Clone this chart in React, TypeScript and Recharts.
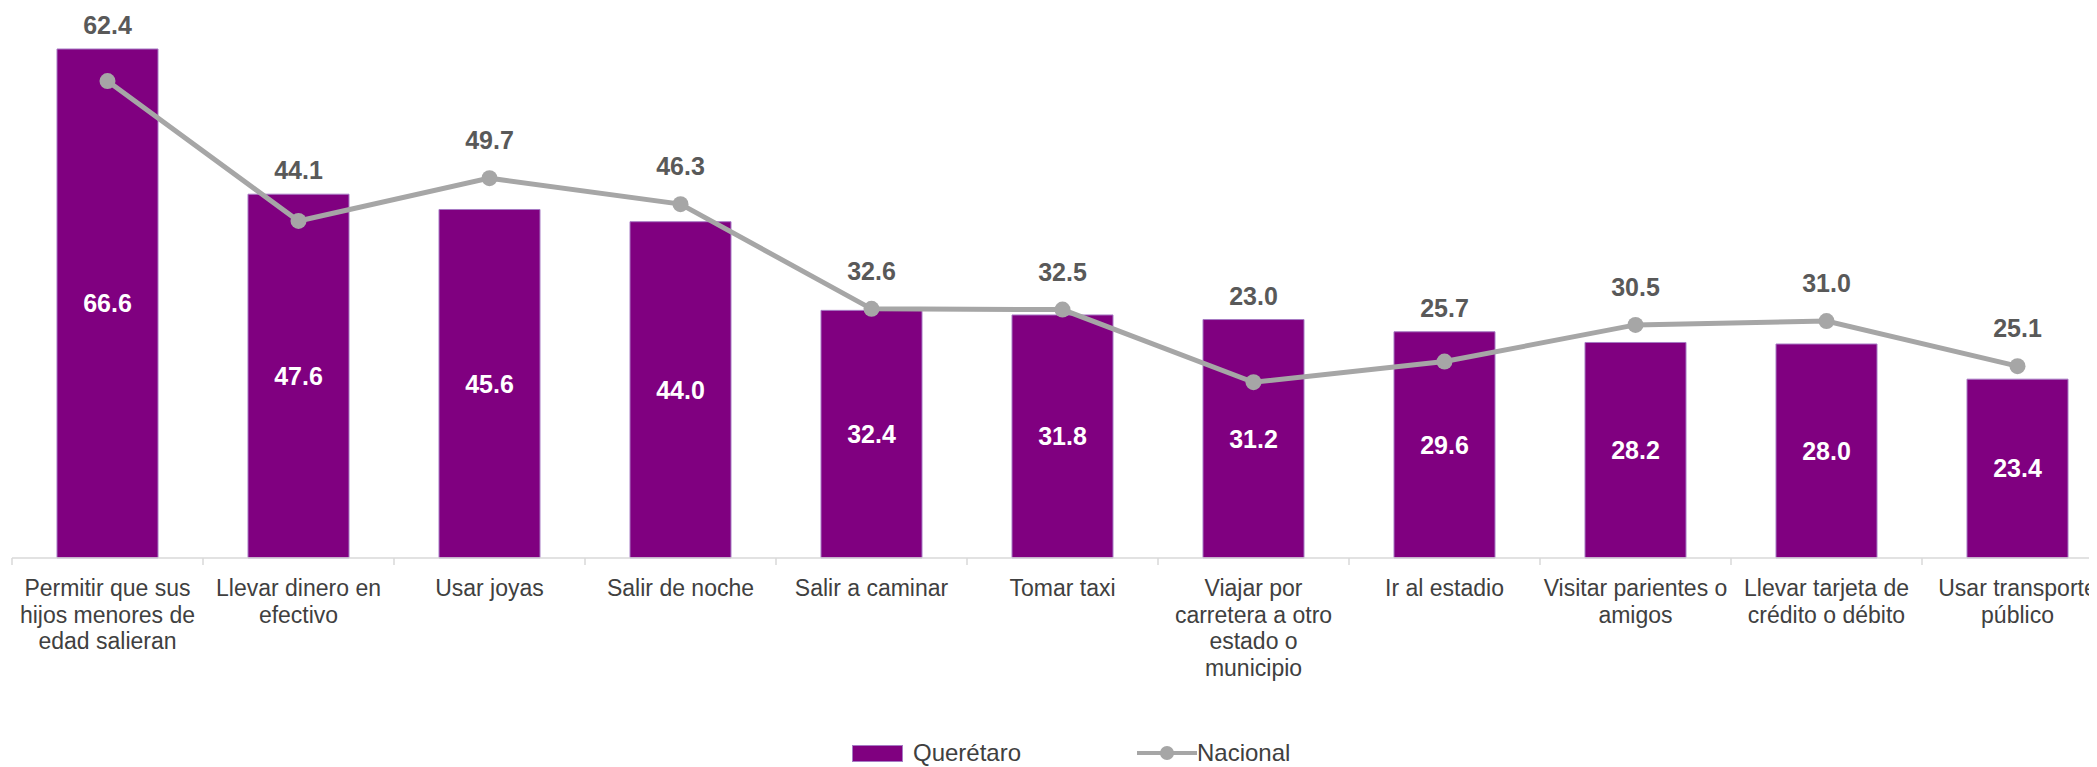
import React from "react";
import { ComposedChart, Bar, Line, XAxis, YAxis, Legend, LabelList } from "recharts";

const categories: string[] = [
  "Permitir que sus\nhijos menores de\nedad salieran",
  "Llevar dinero en\nefectivo",
  "Usar joyas",
  "Salir de noche",
  "Salir a caminar",
  "Tomar taxi",
  "Viajar por\ncarretera a otro\nestado o\nmunicipio",
  "Ir al estadio",
  "Visitar parientes o\namigos",
  "Llevar tarjeta de\ncrédito o débito",
  "Usar transporte\npúblico",
];
const queretaro: number[] = [66.6, 47.6, 45.6, 44.0, 32.4, 31.8, 31.2, 29.6, 28.2, 28.0, 23.4];
const nacional: number[] = [62.4, 44.1, 49.7, 46.3, 32.6, 32.5, 23.0, 25.7, 30.5, 31.0, 25.1];
const yDomain: [number, number] = [0, 70];

const data = categories.map((name, i) => ({ name, queretaro: queretaro[i], nacional: nacional[i] }));

const FONT = "'Liberation Sans', Arial, sans-serif";
const CHART_W = 2110;
const CHART_H = 759;
const MARGIN = { top: 15, right: 5, left: 4, bottom: 0 };
const BAND = (CHART_W - MARGIN.left - MARGIN.right) / categories.length;
const AXIS_COLOR = "#D9D9D9";
const PURPLE = "#800080";
const GRAY = "#A6A6A6";

const CategoryTick = (props: any) => {
  const { x, y, payload } = props;
  const lines = String(payload.value).split("\n");
  const half = BAND / 2;
  return (
    <g transform={`translate(${x},${y})`}>
      <line x1={-half} x2={-half} y1={0} y2={7} stroke={AXIS_COLOR} strokeWidth={1.5} />
      <text textAnchor="middle" fill="#404040" fontSize={23} fontFamily={FONT}>
        {lines.map((l, i) => (
          <tspan key={i} x={0} y={38 + i * 26.5}>
            {l}
          </tspan>
        ))}
      </text>
    </g>
  );
};

const NationalLabel = (props: any) => {
  const vb = props.viewBox && props.viewBox.width !== undefined ? props.viewBox : props;
  const { x, y, width, height } = vb;
  const index = props.index;
  const barVal = queretaro[index];
  const natVal = nacional[index];
  if (barVal === undefined || natVal === undefined) return null;
  const baseline = y + height;
  const scale = height / barVal;
  const pointY = baseline - natVal * scale;
  const center = Math.min(pointY - 38, y - 24);
  return (
    <text
      x={x + width / 2}
      y={center + 9}
      textAnchor="middle"
      fill="#595959"
      fontSize={25}
      fontWeight="bold"
      fontFamily={FONT}
    >
      {natVal.toFixed(1)}
    </text>
  );
};

const renderLegend = () => (
  <div
    style={{
      display: "flex",
      alignItems: "center",
      height: 28,
      paddingLeft: 840,
      fontFamily: FONT,
      fontSize: 24,
      color: "#404040",
      lineHeight: "28px",
    }}
  >
    <span
      style={{
        display: "inline-block",
        width: 51,
        height: 17,
        background: PURPLE,
        border: "1px solid #a77bc4",
        boxSizing: "border-box",
      }}
    />
    <span style={{ marginLeft: 10, display: "inline-block", width: 224 }}>Querétaro</span>
    <svg width={60} height={18} style={{ display: "block" }}>
      <line x1={0} x2={60} y1={9} y2={9} stroke={GRAY} strokeWidth={4} />
      <circle cx={30} cy={9} r={7} fill={GRAY} />
    </svg>
    <span>Nacional</span>
  </div>
);

export default function App() {
  return (
    <div style={{ width: 2089, overflow: "hidden" }}>
      <ComposedChart width={CHART_W} height={CHART_H} data={data} margin={MARGIN}>
        <XAxis
          dataKey="name"
          interval={0}
          tick={<CategoryTick />}
          tickLine={false}
          tickSize={0}
          tickMargin={0}
          height={181}
          axisLine={{ stroke: AXIS_COLOR, strokeWidth: 1.5 }}
        />
        <YAxis hide domain={yDomain} />
        <Bar
          dataKey="queretaro"
          fill={PURPLE}
          stroke="#a77bc4"
          strokeWidth={1}
          barSize={101}
          isAnimationActive={false}
        >
          <LabelList
            dataKey="queretaro"
            position="center"
            fill="#ffffff"
            fontSize={25}
            fontWeight="bold"
            fontFamily={FONT}
            formatter={(v: any) => Number(v).toFixed(1)}
          />
          <LabelList dataKey="queretaro" content={<NationalLabel />} />
        </Bar>
        <Line
          dataKey="nacional"
          stroke={GRAY}
          strokeWidth={5}
          dot={{ r: 8, fill: GRAY, stroke: GRAY, strokeWidth: 0 }}
          activeDot={false}
          isAnimationActive={false}
        />
        <Legend verticalAlign="bottom" content={renderLegend} />
      </ComposedChart>
    </div>
  );
}
